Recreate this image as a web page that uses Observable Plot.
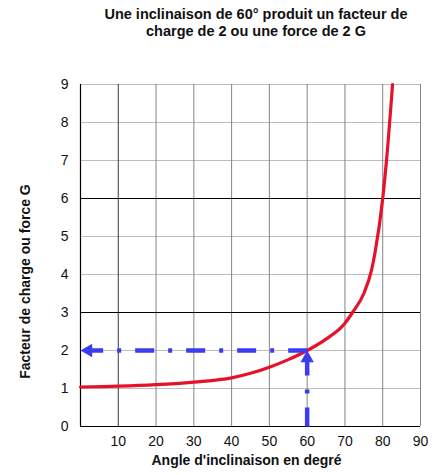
<!DOCTYPE html>
<html>
<head>
<meta charset="utf-8">
<script src="https://cdn.jsdelivr.net/npm/d3@7"></script>
<script src="https://cdn.jsdelivr.net/npm/@observablehq/plot@0.6"></script>
<style>
  body { margin: 0; background: #fff; font-family: "Liberation Sans", Arial, sans-serif; }
  #title {
    width: 443px; height: 45px; box-sizing: border-box;
    padding: 6px 0 0 69px; text-align: center;
    font-weight: bold; font-size: 14.5px; line-height: 17px; color: #111;
  }
  #chart svg { display: block; }
</style>
</head>
<body>
<div id="title">Une inclinaison de 60° produit un facteur de<br>charge de 2 ou une force de 2 G</div>
<div id="chart"></div>
<script>
// Bank angle (degrees) and resulting load factor (G)
const angle      = [0, 10, 20, 30, 40, 45, 50, 55, 60, 65, 70, 72, 75, 77, 78, 80, 81, 82.6];
const loadFactor = [1.04, 1.06, 1.1, 1.17, 1.28, 1.4, 1.56, 1.76, 2.0, 2.3, 2.72, 3.0, 3.5, 4.1, 4.6, 6.0, 7.0, 9.0];

// Axis ticks
const xTicks = [10, 20, 30, 40, 50, 60, 70, 80, 90];
const yTicks = [0, 1, 2, 3, 4, 5, 6, 7, 8, 9];
const yMajor = [3, 6];

// Highlighted reading: 60° gives a factor of 2
const guideAngle = 60;
const guideFactor = 2;

const curve = angle.map((a, i) => ({angle: a, factor: loadFactor[i]}));
const hGuide = [{angle: guideAngle, factor: guideFactor}, {angle: 0, factor: guideFactor}];
const vGuide = [{angle: guideAngle, factor: 0}, {angle: guideAngle, factor: guideFactor}];

const red = "#e5122a";
const blue = "#3b3bf0";
const dash = "19,14,4,14";

const chart = Plot.plot({
  width: 443,
  height: 430,
  marginLeft: 80,
  marginRight: 23,
  marginTop: 39,
  marginBottom: 49,
  style: {fontFamily: "'Liberation Sans', Arial, sans-serif", fontSize: "14px", color: "#111", background: "#fff"},
  x: {domain: [0, 90]},
  y: {domain: [0, 9]},
  marks: [
    // grid
    Plot.ruleY(yTicks.filter(d => d > 0 && !yMajor.includes(d)), {y: d => d, stroke: "#bdbdbd", strokeWidth: 1}),
    Plot.ruleX(xTicks.filter(d => d > 10), {x: d => d, stroke: "#858585", strokeWidth: 1}),
    Plot.ruleX(xTicks.filter(d => d === 10), {x: d => d, stroke: "#3a3a3a", strokeWidth: 1}),
    Plot.ruleY(yMajor, {y: d => d, stroke: "#000", strokeWidth: 1.2}),
    Plot.ruleX([0], {stroke: "#000", strokeWidth: 1.2}),
    Plot.ruleY([0], {stroke: "#000", strokeWidth: 1.2}),
    // axes
    Plot.axisX(xTicks, {tickSize: 0, tickPadding: 10, label: null, fontSize: 14}),
    Plot.axisY(yTicks, {tickSize: 0, tickPadding: 12, label: null, fontSize: 14}),
    // axis titles
    Plot.text(["Angle d'inclinaison en degré"], {
      text: d => d, frameAnchor: "bottom", dy: 38, dx: -4,
      fontWeight: "bold", fontSize: 14, fill: "#111"
    }),
    Plot.text(["Facteur de charge ou force G"], {
      text: d => d, frameAnchor: "left", textAnchor: "middle", rotate: -90, dx: -55, dy: 26,
      fontWeight: "bold", fontSize: 14, fill: "#111"
    }),
    // load factor curve
    Plot.line(curve, {x: "angle", y: "factor", stroke: red, strokeWidth: 3.2, curve: "monotone-x"}),
    // dash-dot guides with arrowheads
    Plot.line(hGuide, {x: "angle", y: "factor", stroke: blue, strokeWidth: 4.5, strokeDasharray: dash, strokeLinecap: "butt"}),
    Plot.line(vGuide, {x: "angle", y: "factor", stroke: blue, strokeWidth: 4.5, strokeDasharray: dash, strokeLinecap: "butt"}),
    Plot.dot([hGuide[1]], {x: "angle", y: "factor", symbol: "triangle", r: 5, rotate: -90, dx: 7.8, fill: blue, stroke: null}),
    Plot.dot([vGuide[1]], {x: "angle", y: "factor", symbol: "triangle", r: 5, dy: 7.8, fill: blue, stroke: null})
  ]
});
document.getElementById("chart").appendChild(chart);
</script>
</body>
</html>
